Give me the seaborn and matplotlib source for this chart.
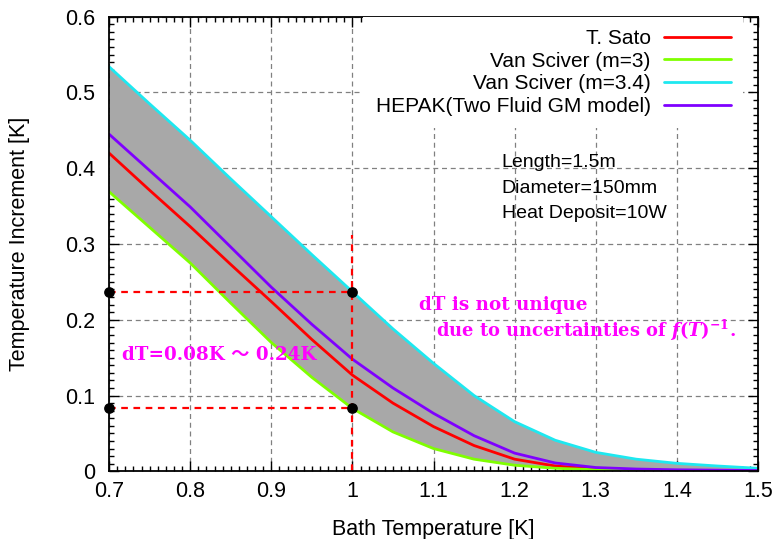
import numpy as np
import pandas as pd
import matplotlib
matplotlib.use("Agg")
import matplotlib.pyplot as plt
import seaborn as sns
from matplotlib.ticker import MultipleLocator

# bath temperature [K]
temp = [0.70, 0.75, 0.80, 0.85, 0.90, 0.95, 1.00, 1.05, 1.10, 1.15, 1.20, 1.25, 1.30, 1.35, 1.40, 1.45, 1.50]

# temperature increment [K]
sato = [0.420, 0.371, 0.323, 0.273, 0.224, 0.174, 0.127, 0.090, 0.059, 0.034, 0.016, 0.007, 0.003, 0.0015, 0.001, 0.0005, 0.0003]
vs_m3 = [0.369, 0.322, 0.275, 0.222, 0.170, 0.124, 0.083, 0.052, 0.030, 0.016, 0.008, 0.004, 0.002, 0.001, 0.0005, 0.0003, 0.0002]
vs_m34 = [0.534, 0.485, 0.437, 0.386, 0.336, 0.286, 0.237, 0.188, 0.1425, 0.100, 0.0655, 0.041, 0.025, 0.016, 0.0105, 0.007, 0.004]
hepak = [0.445, 0.397, 0.349, 0.296, 0.243, 0.194, 0.148, 0.110, 0.0765, 0.047, 0.024, 0.011, 0.005, 0.003, 0.002, 0.0015, 0.001]

# dT range at T=1.0K
dT_T = 1.0
dT_low = 0.083
dT_high = 0.237
dT_vline_top = 0.312

df = pd.DataFrame({"T": temp, "T. Sato": sato, "Van Sciver (m=3)": vs_m3,
                   "Van Sciver (m=3.4)": vs_m34, "HEPAK(Two Fluid GM model)": hepak})

sns.set_style("ticks")
plt.rcParams["font.family"] = ["Liberation Sans", "DejaVu Sans"]
plt.rcParams["text.color"] = "black"
plt.rcParams["axes.labelcolor"] = "black"
plt.rcParams["xtick.color"] = "black"
plt.rcParams["ytick.color"] = "black"
plt.rcParams["mathtext.fontset"] = "custom"
plt.rcParams["mathtext.rm"] = "DejaVu Serif:bold"
plt.rcParams["mathtext.it"] = "DejaVu Serif:italic:bold"

fig = plt.figure(figsize=(7.79, 5.39), dpi=100)
ax = fig.add_axes([0.140, 0.1256, 0.833, 0.8434])

ax.fill_between(df["T"], df["Van Sciver (m=3)"], df["Van Sciver (m=3.4)"], color="#a8a8a8", lw=0, zorder=2)

colors = {"T. Sato": "#ff0000", "Van Sciver (m=3)": "#7fff00",
          "Van Sciver (m=3.4)": "#1ee8f0", "HEPAK(Two Fluid GM model)": "#7f00ff"}
for name in ["T. Sato", "Van Sciver (m=3)", "Van Sciver (m=3.4)", "HEPAK(Two Fluid GM model)"]:
    sns.lineplot(data=df, x="T", y=name, color=colors[name], lw=2, label=name, ax=ax, zorder=4)

# dT guide lines
red_dash = dict(color="red", lw=1.6, ls=(0, (3, 2.5)), zorder=5)
ax.plot([dT_T, dT_T], [0, dT_vline_top], **red_dash)
ax.plot([0.7, dT_T], [dT_high, dT_high], **red_dash)
ax.plot([0.7, dT_T], [dT_low, dT_low], **red_dash)
ax.scatter([0.7, dT_T, 0.7, dT_T], [dT_high, dT_high, dT_low, dT_low], s=45, color="black",
           zorder=6, clip_on=False)

ax.set_xlim(0.7, 1.5)
ax.set_ylim(0, 0.6)
ax.xaxis.set_minor_locator(MultipleLocator(0.01))
ax.yaxis.set_minor_locator(MultipleLocator(0.01))
ax.set_xticks(np.arange(0.7, 1.51, 0.1))
ax.set_xticklabels(["0.7", "0.8", "0.9", "1", "1.1", "1.2", "1.3", "1.4", "1.5"])
ax.set_yticks(np.arange(0, 0.61, 0.1))
ax.set_yticklabels(["0", "0.1", "0.2", "0.3", "0.4", "0.5", "0.6"])
ax.tick_params(which="major", direction="in", length=7, width=1, top=True, right=True, labelsize=15.5)
ax.tick_params(axis="x", which="major", pad=7)
ax.tick_params(axis="y", which="major", pad=10)
ax.tick_params(which="minor", direction="in", length=3.5, width=1, top=True, right=True)
for sp in ax.spines.values():
    sp.set_linewidth(1.3)
    sp.set_color("black")
    sp.set_zorder(7)
ax.grid(True, which="major", color="#808080", ls=(0, (4, 3)), lw=0.9, zorder=1)

ax.set_xlabel("Bath Temperature [K]", fontsize=15.5)
ax.set_ylabel("Temperature Increment [K]", fontsize=15.5)
ax.xaxis.set_label_coords(0.5, -0.105)
ax.yaxis.set_label_coords(-0.122, 0.5)

leg = ax.legend(loc="upper right", bbox_to_anchor=(0.9775, 1.0), markerfirst=False, frameon=True,
                fontsize=15, handlelength=3.2, handletextpad=0.65, labelspacing=0.17, borderpad=0.6,
                borderaxespad=0.0, fancybox=False)
leg.get_frame().set_edgecolor("none")
leg.get_frame().set_facecolor("white")
leg.get_frame().set_alpha(1)
leg.set_zorder(8)
for line in leg.get_lines():
    line.set_linewidth(2)

# condition text
for yv, s in [(0.408, "Length=1.5m"), (0.373, "Diameter=150mm"), (0.340, "Heat Deposit=10W")]:
    ax.text(1.184, yv, s, fontsize=14, va="center", ha="left", zorder=9)

mag = "#ff00ff"
ax.text(0.7155, 0.1535, "dT=0.08K ～ 0.24K", color=mag, fontsize=13.2, fontweight="bold",
        family=["DejaVu Serif", "Noto Sans CJK JP"], va="center", ha="left", zorder=9)
ax.text(1.082, 0.2195, "dT is not unique", color=mag, fontsize=13.2, fontweight="bold",
        family=["DejaVu Serif"], va="center", ha="left", zorder=9)
ax.text(1.103, 0.1865, r"due to uncertainties of $f(T)^{-1}$.", color=mag, fontsize=12.9,
        fontweight="bold", family=["DejaVu Serif"], va="center", ha="left", zorder=9)

fig.savefig("out.png", dpi=100)
